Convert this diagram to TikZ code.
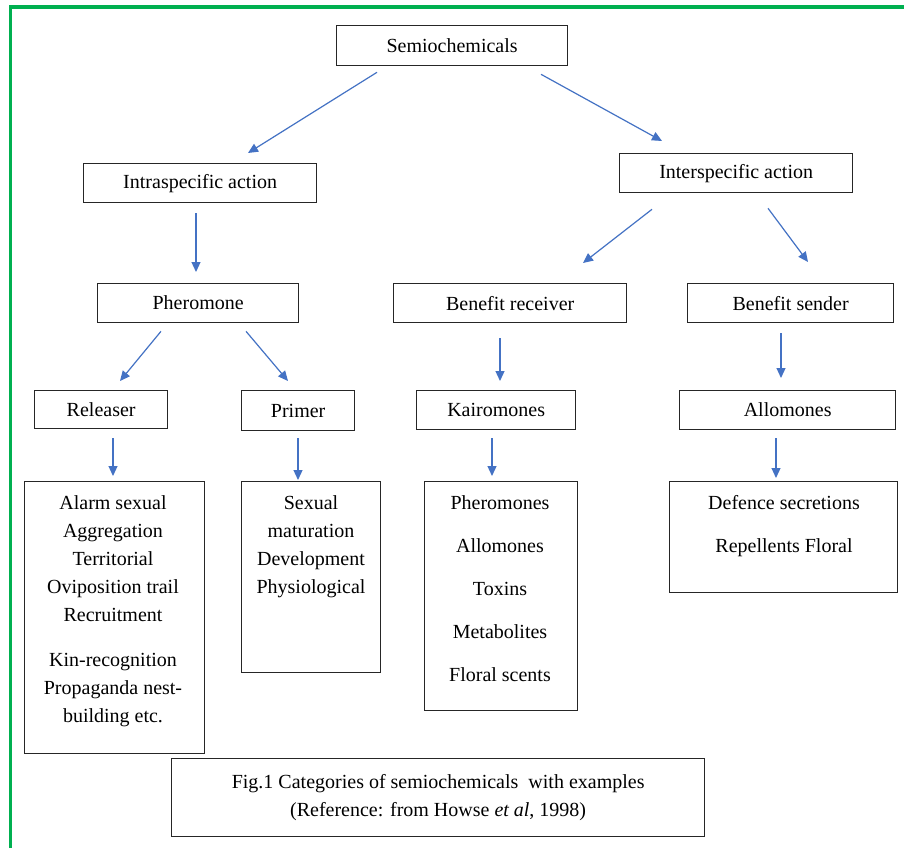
\documentclass[tikz,border=0pt]{standalone}
\usepackage{fontspec}
\setmainfont{Liberation Serif}
\usetikzlibrary{arrows.meta}
\definecolor{arrowblue}{HTML}{4472C4}
\definecolor{framegreen}{HTML}{00B050}
\begin{document}
\begin{tikzpicture}[x=1pt,y=-1pt,
  box/.style={draw=black!85, line width=1.3pt, anchor=north west, inner sep=0pt,
    align=center, font=\fontsize{20}{28}\selectfont},
  lst/.style={anchor=north, inner sep=0pt, align=center, font=\fontsize{20}{28}\selectfont},
  arr/.style={draw=arrowblue, line width=1.2pt, -{Triangle[length=10pt,width=9pt]}}]
\useasboundingbox (0,0) rectangle (904,848);
\fill[white] (0,0) rectangle (904,848);
% green frame
\draw[framegreen, line width=3.2pt] (10.5,848) -- (10.5,7) -- (904,7);
% boxes
\node[box, minimum width=231pt, minimum height=40pt] (semi)  at (336,25)  {Semiochemicals};
\node[box, minimum width=233pt, minimum height=39pt] (intra) at (83,163)  {Intraspecific action};
\node[box, minimum width=233pt, minimum height=39pt] (inter) at (619,153) {Interspecific action};
\node[box, minimum width=201pt, minimum height=39pt] (phero) at (97,283)  {Pheromone};
\node[box, minimum width=233pt, minimum height=39pt] (recv)  at (393,283) {Benefit receiver};
\node[box, minimum width=206pt, minimum height=39pt] (send)  at (687,283) {Benefit sender};
\node[box, minimum width=133pt, minimum height=38pt] (rel)   at (34,390)  {Releaser};
\node[box, minimum width=113pt, minimum height=40pt] (prim)  at (241,390) {Primer};
\node[box, minimum width=159pt, minimum height=39pt] (kairo) at (416,390) {Kairomones};
\node[box, minimum width=216pt, minimum height=39pt] (allo)  at (679,390) {Allomones};
% list boxes
\node[box, minimum width=180pt, minimum height=272pt] (l1) at (24,481) {};
\node[box, minimum width=139pt, minimum height=191pt] (l2) at (241,481) {};
\node[box, minimum width=153pt, minimum height=229pt] (l3) at (424,481) {};
\node[box, minimum width=228pt, minimum height=111pt] (l4) at (669,481) {};
\node[lst] (t1) at (113,495) {Alarm sexual\\Aggregation\\Territorial\\Oviposition trail\\Recruitment\\[17pt]Kin-recognition\\Propaganda nest-\\building etc.};
\node[lst] (t2) at (311,495) {Sexual\\maturation\\Development\\Physiological};
\node[lst, font=\fontsize{20}{43}\selectfont] (t3) at (500,495) {Pheromones\\Allomones\\Toxins\\Metabolites\\Floral scents};
\node[lst, font=\fontsize{20}{43}\selectfont] (t4) at (784,495) {Defence secretions\\Repellents Floral};
% caption
\node[box, minimum width=533pt, minimum height=78pt] (cap) at (171,758)
  {Fig.1 Categories of semiochemicals\ \ with examples\\(Reference: from Howse \textit{et al}, 1998)};
% arrows
\draw[arr] ([shift={(41,6)}]semi.south west) -- ([shift={(165,-10)}]intra.north west);
\draw[arr] ([shift={(205,8)}]semi.south west) -- ([shift={(43,-12)}]inter.north west);
\draw[arr] ([shift={(113,10)}]intra.south west) -- ([shift={(99,-11)}]phero.north west);
\draw[arr] ([shift={(33,16)}]inter.south west) -- ([shift={(190,-20)}]recv.north west);
\draw[arr] ([shift={(149,15)}]inter.south west) -- ([shift={(121,-21)}]send.north west);
\draw[arr] ([shift={(64,8)}]phero.south west) -- ([shift={(86,-9)}]rel.north west);
\draw[arr] ([shift={(149,8)}]phero.south west) -- ([shift={(47,-9)}]prim.north west);
\draw[arr] ([shift={(107,15)}]recv.south west) -- ([shift={(84,-9)}]kairo.north west);
\draw[arr] ([shift={(94,10)}]send.south west) -- ([shift={(102,-12)}]allo.north west);
\draw[arr] ([shift={(79,9)}]rel.south west) -- ([shift={(89,-5)}]l1.north west);
\draw[arr] ([shift={(57,7)}]prim.south west) -- ([shift={(57,-1)}]l2.north west);
\draw[arr] ([shift={(76,8)}]kairo.south west) -- ([shift={(68,-5)}]l3.north west);
\draw[arr] ([shift={(97,8)}]allo.south west) -- ([shift={(107,-3)}]l4.north west);
\end{tikzpicture}
\end{document}
